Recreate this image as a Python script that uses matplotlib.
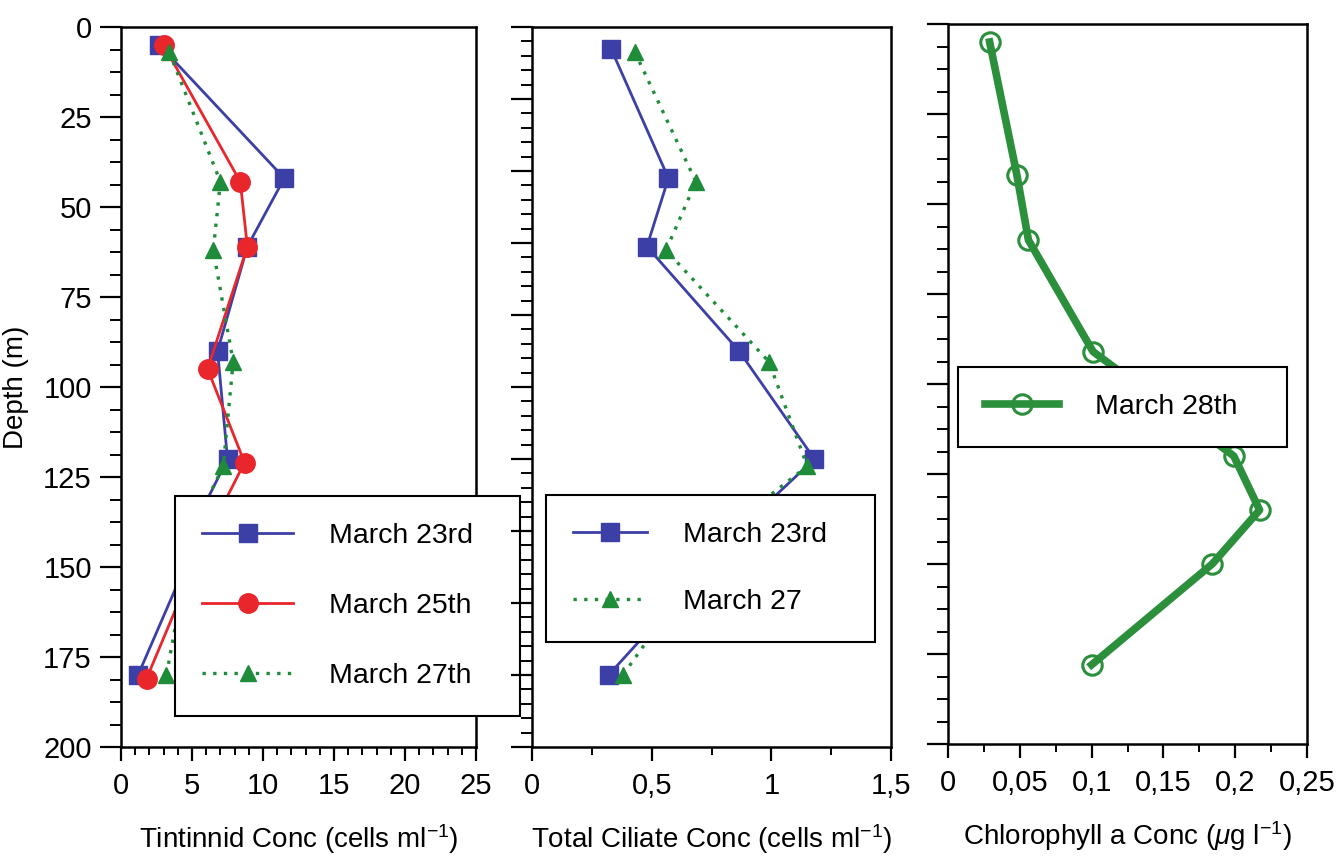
import matplotlib.pyplot as plt
from matplotlib.ticker import MultipleLocator, FuncFormatter

plt.rcParams['font.family'] = 'Liberation Sans'
plt.rcParams['mathtext.fontset'] = 'custom'
plt.rcParams['mathtext.rm'] = 'Liberation Sans'
plt.rcParams['mathtext.it'] = 'Liberation Sans:italic'
plt.rcParams['mathtext.default'] = 'regular'

# Tintinnid conc (cells ml-1) vs depth (m)
tin_depth_23 = [5, 42, 61, 90, 120, 135, 150, 180]
tin_23 = [2.7, 11.5, 8.9, 6.8, 7.5, 5.6, 4.5, 1.2]
tin_depth_25 = [5, 43, 61, 95, 121, 135, 150, 181]
tin_25 = [3.0, 8.4, 8.9, 6.1, 8.7, 6.9, 5.1, 1.8]
tin_depth_27 = [7, 43, 62, 93, 122, 135, 150, 180]
tin_27 = [3.4, 7.0, 6.5, 7.9, 7.2, 5.6, 4.6, 3.2]

# Total ciliate conc (cells ml-1)
cil_depth_23 = [6, 42, 61, 90, 120, 135, 150, 180]
cil_23 = [0.33, 0.57, 0.48, 0.865, 1.18, 0.94, 0.73, 0.32]
cil_depth_27 = [7, 43, 62, 93, 122, 135, 150, 180]
cil_27 = [0.43, 0.685, 0.56, 0.99, 1.15, 0.90, 0.70, 0.38]

# Chlorophyll a (ug l-1)
chl_depth = [5, 42, 60, 91, 120, 135, 150, 178]
chl_28 = [0.029, 0.048, 0.056, 0.101, 0.199, 0.217, 0.184, 0.100]

blue = '#3c3fa6'
red = '#e8262b'
green = '#1f8c3a'
chl_green = '#2b8f3c'

W, H = 1343, 861
fig = plt.figure(figsize=(W / 100, H / 100), dpi=100)

bottom = 1 - 747 / H
height = 720 / H
ax1 = fig.add_axes([121 / W, bottom, 355 / W, height])
ax2 = fig.add_axes([532 / W, bottom, 359 / W, height])
ax3 = fig.add_axes([948 / W, bottom + 3 / H, 359 / W, height])

comma = FuncFormatter(lambda v, p: f"{v:g}".replace('.', ','))


def style(ax, xmax, xmaj, xmin, ymaj, ymin, ylabels):
    ax.set_xlim(0, xmax)
    ax.set_ylim(200, 0)
    ax.xaxis.set_major_locator(MultipleLocator(xmaj))
    ax.xaxis.set_minor_locator(MultipleLocator(xmin))
    ax.yaxis.set_major_locator(MultipleLocator(ymaj))
    ax.yaxis.set_minor_locator(MultipleLocator(ymin))
    ax.xaxis.set_major_formatter(comma)
    ax.tick_params(axis='x', which='major', direction='out', length=10, width=1.6,
                   labelsize=21, pad=8)
    ax.tick_params(axis='x', which='minor', direction='out', length=6, width=1.4)
    ax.tick_params(axis='y', which='major', direction='out', length=15, width=1.6,
                   labelsize=21, pad=6, labelleft=ylabels)
    ax.tick_params(axis='y', which='minor', direction='out', length=8, width=1.4)
    for s in ax.spines.values():
        s.set_linewidth(1.8)


def add_legend(ax, x0, ytop, w, hlen, spacing):
    leg = ax.legend(loc='upper left', bbox_to_anchor=(x0 / W, 1 - ytop / H - 0.2, w / W, 0.2),
                    bbox_transform=fig.transFigure, mode='expand', borderaxespad=0,
                    fontsize=20.5, numpoints=1, handlelength=hlen, handletextpad=1.25,
                    borderpad=0.95, labelspacing=spacing, fancybox=False, framealpha=1)
    leg.get_frame().set_edgecolor('black')
    leg.get_frame().set_linewidth(1.5)
    return leg


# panel 1
ax1.plot(tin_23, tin_depth_23, color=blue, lw=2, marker='s', ms=13, label='March 23rd')
ax1.plot(tin_25, tin_depth_25, color=red, lw=2, marker='o', ms=14, label='March 25th')
ax1.plot(tin_27, tin_depth_27, color=green, lw=2.4, ls=(0, (1, 2.2)), marker='^', ms=12,
         label='March 27th')
style(ax1, 25, 5, 1, 25, 6.25, True)
ax1.set_ylabel('Depth (m)', fontsize=20, labelpad=10)
ax1.set_xlabel('Tintinnid Conc (cells ml$^{-1}$)', fontsize=20, labelpad=16)
add_legend(ax1, 175, 496, 345, 3.2, 1.55)

# panel 2
ax2.plot(cil_23, cil_depth_23, color=blue, lw=2, marker='s', ms=13, label='March 23rd')
ax2.plot(cil_27, cil_depth_27, color=green, lw=2.4, ls=(0, (1, 2.2)), marker='^', ms=12,
         label='March 27')
style(ax2, 1.5, 0.5, 0.25, 20, 4, False)
ax2.set_xlabel('Total Ciliate Conc (cells ml$^{-1}$)', fontsize=20, labelpad=16)
add_legend(ax2, 546, 495, 329, 2.6, 1.45)

# panel 3
ax3.plot(chl_28, chl_depth, color=chl_green, lw=5.5, marker='o', ms=14, mfc='none',
         mec=chl_green, mew=2.2, label='March 28th')
style(ax3, 0.25, 0.05, 0.025, 25, 6.25, False)
ax3.set_xlabel('Chlorophyll a Conc ($\\mathit{\\mu}$g l$^{-1}$)', fontsize=20, labelpad=16)
add_legend(ax3, 958, 367, 329, 2.6, 1.45)

fig.savefig('out.png', dpi=100)
